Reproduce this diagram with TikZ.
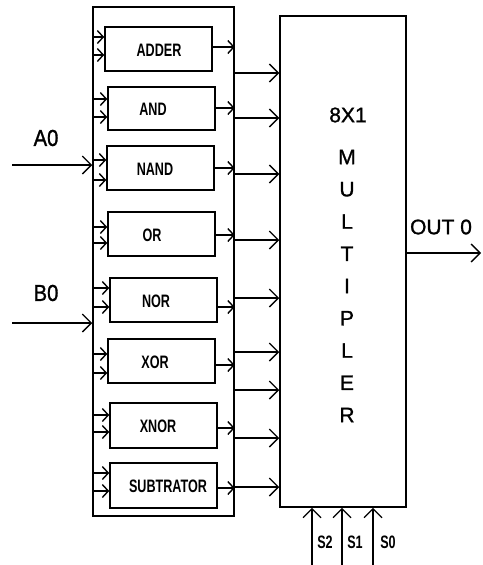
\documentclass[tikz,border=0pt]{standalone}
\usepackage{fontspec}
\setmainfont{Liberation Sans}[FakeBold=1.2]
\newfontfamily\narrowbf[FakeStretch=0.70]{Liberation Sans}
\newfontfamily\portfont[FakeStretch=0.88, FakeBold=1.2]{Liberation Sans}
\usetikzlibrary{arrows.meta}

\tikzset{
  unitbox/.style={draw, line width=1.5pt, inner sep=0pt},
  unitlabel/.style={font=\narrowbf\bfseries\fontsize{18}{18}\selectfont, inner sep=0pt},
  selectlabel/.style={font=\narrowbf\bfseries\fontsize{18}{18}\selectfont, inner sep=0pt},
  muxtext/.style={font=\fontsize{21}{21}\selectfont, inner sep=0pt},
  portlabel/.style={font=\portfont\fontsize{23}{23}\selectfont, inner sep=0pt},
  smallarr/.style={line width=1.4pt, -{Straight Barb[length=6pt, width=13pt]}},
  bigarr/.style={line width=1.4pt, -{Straight Barb[length=9pt, width=18pt]}}
}

\begin{document}
\begin{tikzpicture}[x=1pt, y=-1pt]
\useasboundingbox (0,0) rectangle (482,565);

% === group of units ===
\node[unitbox, minimum width=141pt, minimum height=509pt] (grp) at (163.5,261.5) {};

\foreach \nm/\lb/\xa/\ya/\xb/\yb/\ia/\ib/\oy/\tx in {
    adder/ADDER/105/27/212/71/37/55/47/159,
    andg/AND/108/87/215/130/99/117/108/153,
    nand/NAND/107/146/214/190/160/180/168/155,
    org/OR/108/212/215/256/227/243/235/152,
    nor/NOR/110/278/217/322/288/307/307/156,
    xorg/XOR/108/339/215/383/354/373/365/155,
    xnor/XNOR/110/403/217/448/415/432/428/158,
    sub/SUBTRATOR/110/463/217/508/473/491/488/168} {
    \pgfmathsetmacro{\bw}{\xb-\xa}
    \pgfmathsetmacro{\bh}{\yb-\ya}
    \node[unitbox, minimum width=\bw pt, minimum height=\bh pt] (\nm) at ({(\xa+\xb)/2},{(\ya+\yb)/2}) {};
    \node[unitlabel] (\nm-lbl) at (\tx,{(\ya+\yb)/2+1}) {\lb};
    \draw[smallarr] (grp.west |- 0,\ia) -- (\nm.west |- 0,\ia);
    \draw[smallarr] (grp.west |- 0,\ib) -- (\nm.west |- 0,\ib);
    \draw[smallarr] (\nm.east |- 0,\oy) -- (grp.east |- 0,\oy);
}

% === inputs ===
\coordinate (a0in) at (12,165);
\coordinate (b0in) at (12,323);
\node[portlabel] (a0lbl) at (46,138) {A0};
\node[portlabel] (b0lbl) at (46,293) {B0};
\draw[bigarr] (a0in) -- (grp.west |- a0in);
\draw[bigarr] (b0in) -- (grp.west |- b0in);

% === multiplexer ===
\node[unitbox, minimum width=126pt, minimum height=491pt] (mux) at (343,261.5) {};
\foreach \y in {73,118,174,240,298,352,390,438,487} {
    \draw[bigarr] (grp.east |- 0,\y) -- (mux.west |- 0,\y);
}
\node[muxtext] (muxsize) at (348,115) {8X1};
\foreach \ch [count=\i from 0] in {M,U,L,T,I,P,L,E,R} {
    \node[muxtext] (muxch\i) at (347,{157+32.25*\i}) {\ch};
}

% output
\coordinate (outend) at (481,253);
\draw[bigarr] (mux.east |- outend) -- (outend);
\node[muxtext] (outlbl) at (441,227) {OUT 0};

% select lines
\foreach \sn/\sx/\lx in {2/312/325, 1/342/355, 0/373/388} {
    \coordinate (s\sn in) at (\sx,565);
    \draw[bigarr] (s\sn in) -- (s\sn in |- mux.south);
    \node[selectlabel] (s\sn lbl) at (\lx,542) {S\sn};
}

\end{tikzpicture}
\end{document}
